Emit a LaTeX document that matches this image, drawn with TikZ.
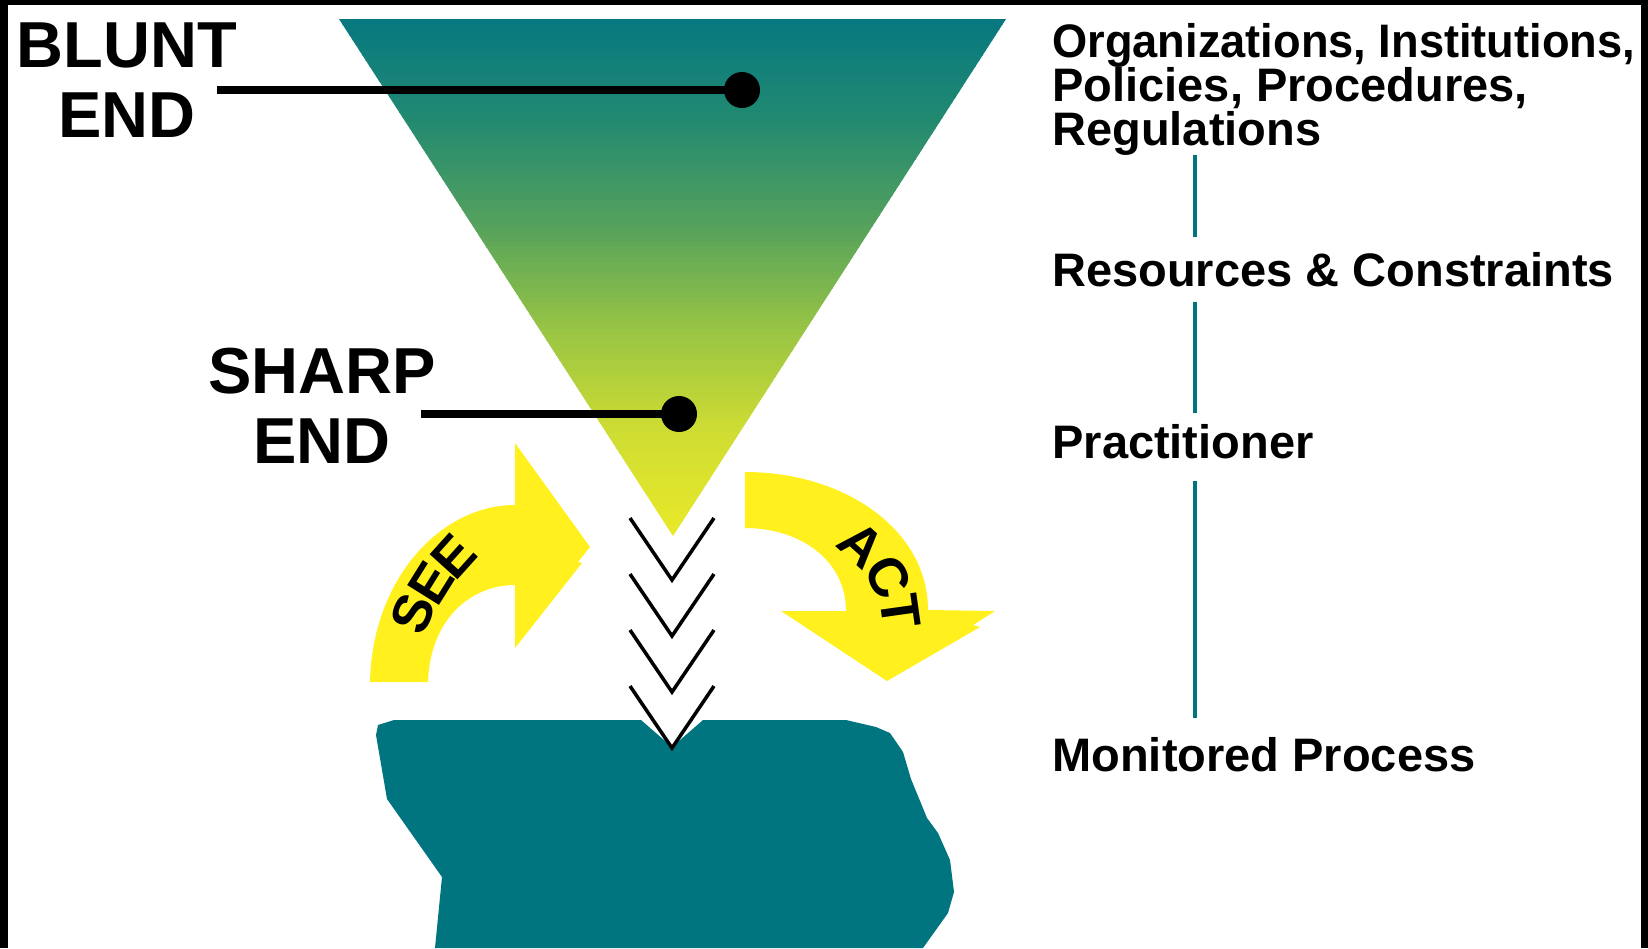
\documentclass[tikz,border=0pt]{standalone}
\usepackage{fontspec}
\setmainfont{Liberation Sans}
\begin{document}
\begin{tikzpicture}[x=0.02cm,y=-0.02cm,
  lbl/.style={inner sep=0pt, anchor=base, font=\fontsize{37pt}{40pt}\selectfont\bfseries},
  rlbl/.style={inner sep=0pt, anchor=base west, font=\fontsize{26.75pt}{30pt}\selectfont\bfseries},
  arrlet/.style={inner sep=0pt, font=\fontsize{31pt}{34pt}\selectfont\bfseries},
  lead/.style={line width=4.6pt},
  dotnode/.style={circle, fill=black, inner sep=0pt, minimum size=20.5pt},
  vline/.style={line width=2.3pt, draw=tealC},
  chev/.style={line width=2pt, miter limit=20},
  yarrow/.style={fill=yel}]
\definecolor{tealC}{RGB}{0,117,128}
\definecolor{yel}{RGB}{255,240,30}
\definecolor{g0}{RGB}{7,120,128}
\definecolor{g1}{RGB}{35,138,112}
\definecolor{g2}{RGB}{85,162,92}
\definecolor{g3}{RGB}{152,196,68}
\definecolor{g4}{RGB}{207,221,50}
\definecolor{g5}{RGB}{233,233,40}
% frame and background
\fill[black] (0,0) rectangle (1648,948);
\fill[white] (8,5) rectangle (1641,948);
\useasboundingbox (0,0) rectangle (1648,948);

% funnel triangle with graded fill
\begin{scope}
\clip (339,19) -- (1006,19) -- (673,536) -- cycle;
\foreach \ca/\cb [count=\k from 0] in {g0/g1,g1/g2,g2/g3,g3/g4,g4/g5}{
  \foreach \j in {0,...,19}{
    \pgfmathsetmacro\ya{19+103.4*\k+5.17*\j}
    \pgfmathsetmacro\yb{\ya+6.2}
    \pgfmathtruncatemacro\pp{100*(\j+0.5)/20}
    \fill[\cb!\pp!\ca] (330,\ya) rectangle (1010,\yb);
  }
}
\end{scope}

% monitored process shape
\fill[tealC] (394,720) -- (641,720) -- (672,747) -- (703,720) -- (846,720) -- (876,727) -- (890,733)
  -- (903,752) -- (911,779) -- (927,818) -- (938,833) -- (950,860) -- (954,892) -- (948,913)
  -- (923,948) -- (435,948) -- (442,877) -- (387,799) -- (376,735) -- (378,725) -- cycle;

% chevrons
\foreach \t in {518,574,630,686}{
  \draw[chev] (630,\t) -- (672,\t+62) -- (714,\t);
}

% SEE arrow
\fill[yarrow] (370,682) .. controls (372,580) and (440,505) .. (515,505)
  -- (515,443) -- (590,547) -- (578,562) -- (582,563) -- (515,648) -- (515,585)
  .. controls (470,585) and (430,620) .. (428,682) -- cycle;
% ACT arrow
\fill[yarrow] (745,472) .. controls (845,472) and (928,530) .. (928,610)
  -- (995,611) -- (973,625) -- (980,627) -- (887,681) -- (781,611) -- (846,611)
  .. controls (846,560) and (800,528) .. (745,528) -- cycle;

\node[arrlet, rotate=68] (see1) at (413,614) {S};
\node[arrlet, rotate=58] (see2) at (431,583) {E};
\node[arrlet, rotate=48] (see3) at (454,556) {E};
\node[arrlet, rotate=-42] (act1) at (862,545) {A};
\node[arrlet, rotate=-62] (act2) at (888,577) {C};
\node[arrlet, rotate=-82] (act3) at (900,611) {T};

% left labels with leaders
\node[lbl] (blunt1) at (127,67) {BLUNT};
\node[lbl] (blunt2) at (127,137) {END};
\node[lbl] (sharp1) at (322,393) {SHARP};
\node[lbl] (sharp2) at (322,463) {END};
\coordinate (bl) at (217,90);
\coordinate (sl) at (421,414);
\node[dotnode] (bdot) at (742,90) {};
\node[dotnode] (sdot) at (679,414) {};
\draw[lead] (bl) -- (bdot.center);
\draw[lead] (sl) -- (sdot.center);

% right labels
\node[rlbl] (org) at (1052,57) {\scalebox{0.962}[1]{Organizations, Institutions,}};
\node[rlbl] (pol) at (1052,101) {Policies, Procedures,};
\node[rlbl] (reg) at (1052,145) {Regulations};
\node[rlbl] (res) at (1052,286) {Resources \& Constraints};
\node[rlbl] (pra) at (1052,458) {Practitioner};
\node[rlbl] (mon) at (1052,771) {Monitored Process};
\coordinate (lx) at (1195,0);
\draw[vline, shorten >=8.5pt] (reg.south -| lx) -- (res.north -| lx);
\draw[vline, shorten <=8.5pt, shorten >=6.3pt] (res.south -| lx) -- (pra.north -| lx);
\draw[vline, shorten <=12.5pt, shorten >=10.8pt] (pra.south -| lx) -- (mon.north -| lx);
\end{tikzpicture}
\end{document}
